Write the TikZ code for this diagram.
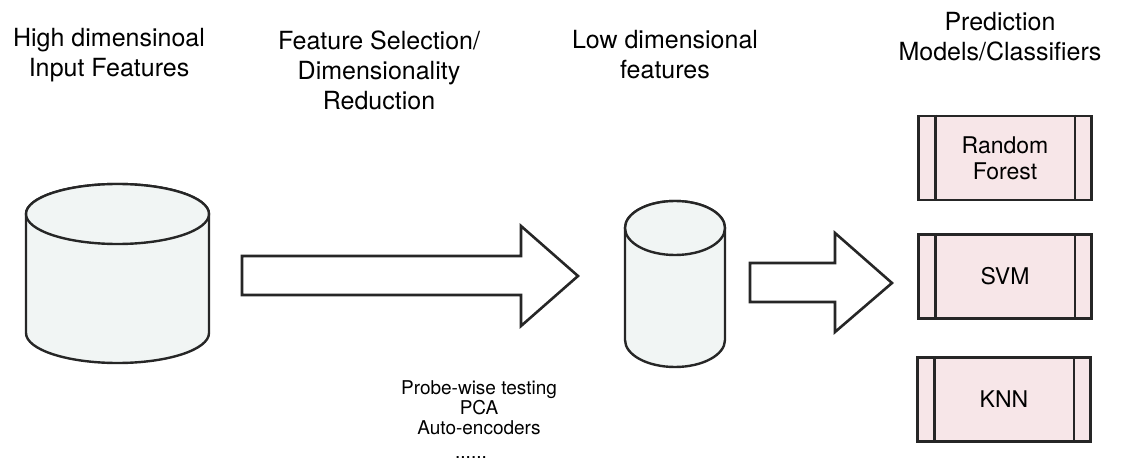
\documentclass[tikz,border=0pt]{standalone}
\usepackage{fontspec}
\setmainfont{TeX Gyre Heros}
\begin{document}
\begin{tikzpicture}[x=1pt,y=-1pt,
  title/.style={align=center,inner sep=0pt,font=\fontsize{25}{30}\selectfont},
  note/.style={align=center,inner sep=0pt,font=\fontsize{19}{20}\selectfont},
  drum/.style={draw=black!85,line width=2.4pt,fill=cylfill},
  blockarrow/.style={draw=black!85,line width=2.6pt,fill=white,line join=miter},
  model/.style={draw=black!85,line width=2.6pt,fill=boxfill,minimum width=173pt,
    minimum height=84pt,inner sep=0pt,align=center,font=\fontsize{23}{26}\selectfont},
  bar/.style={draw=black!85,line width=2.6pt}]
\definecolor{cylfill}{HTML}{F1F5F4}
\definecolor{boxfill}{HTML}{F7E6E8}
\useasboundingbox (0,0) rectangle (1130,476);

% column headings
\node[title] (h1) at (109,55) {High dimensinoal\\Input Features};
\node[title] (h2) at (379,70) {Feature Selection/\\Dimensionality\\Reduction};
\node[title] (h3) at (665,55) {Low dimensional\\features};
\node[title] (h4) at (1000,37) {Prediction\\Models/Classifiers};

% high dimensional store (y axis points down, so angle 90 is the lower rim)
\draw[drum] (26,214) -- (26,333) arc[start angle=180,end angle=0,x radius=91.5,y radius=30]
  -- (209,214) arc[start angle=0,end angle=-180,x radius=91.5,y radius=30] -- cycle;
\draw[drum] (117.5,214) ellipse[x radius=91.5,y radius=30];
\coordinate (big) at (117.5,275);

% low dimensional store
\draw[drum] (625,228) -- (625,340) arc[start angle=180,end angle=0,x radius=50,y radius=27]
  -- (725,228) arc[start angle=0,end angle=-180,x radius=50,y radius=27] -- cycle;
\draw[drum] (675,228) ellipse[x radius=50,y radius=27];
\coordinate (small) at (675,285);

% reduction step
\draw[blockarrow] (242,256) -- (521,256) -- (521,226) -- (578,276) -- (521,326)
  -- (521,295) -- (242,295) -- cycle;

% classification step
\draw[blockarrow] (750,263) -- (835,263) -- (835,233) -- (892,283) -- (835,332)
  -- (835,302) -- (750,302) -- cycle;

% methods used for the reduction
\node[note] (methods) at (479,408) {Probe-wise testing\\PCA\\Auto-encoders};
\node[note,anchor=south] (dots) at (471,459) {......};

% classifiers
\node[model] (rf) at (1005,158) {Random\\Forest};
\node[model] (svm) at (1005,276.5) {SVM};
\node[model] (knn) at (1004,399.5) {KNN};
\foreach \b in {rf,svm,knn}{
  \draw[bar] ([xshift=18pt]\b.north west) -- ([xshift=18pt]\b.south west);
  \draw[bar] ([xshift=-18pt]\b.north east) -- ([xshift=-18pt]\b.south east);
}
\end{tikzpicture}
\end{document}
